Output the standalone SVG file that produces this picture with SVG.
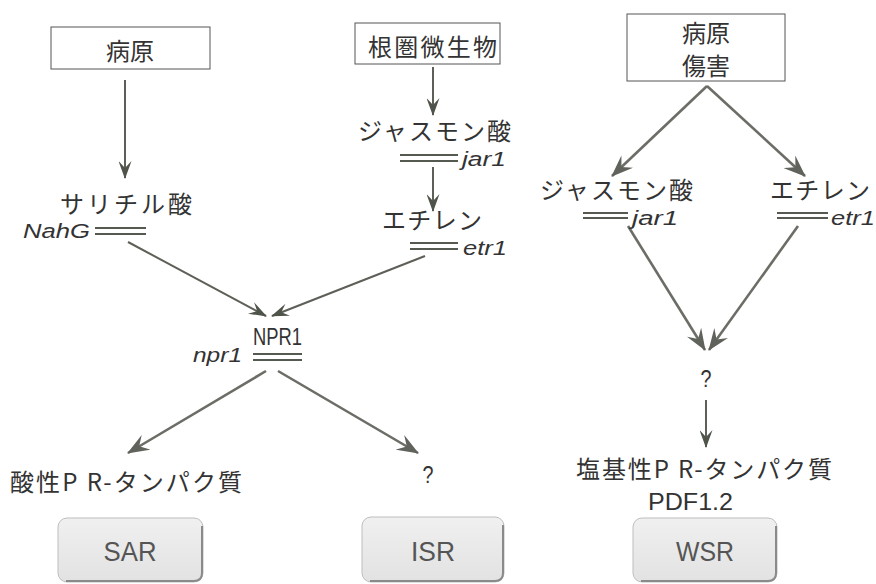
<svg xmlns="http://www.w3.org/2000/svg" width="876" height="584" viewBox="0 0 876 584">
<defs>
<style>
.jp{font-family:"Noto Sans CJK JP","Liberation Sans",sans-serif;font-size:24px;fill:#333}
.it{font-family:"Liberation Sans",Arial,sans-serif;font-style:italic;font-size:20px;fill:#333}
.cn{font-family:"Liberation Sans",Arial,sans-serif;font-size:24px;fill:#333}
.box{fill:#fff;stroke:#555;stroke-width:1}
.res{fill:url(#g);stroke:#bdbdbd;stroke-width:1}
.sh{fill:none;stroke:#8a8a8a;stroke-width:2}
.rt{font-family:"Liberation Sans",Arial,sans-serif;font-size:27px;fill:#555;text-anchor:middle}
.ar{fill:none;stroke:#5c6058;stroke-width:2;marker-end:url(#ah)}
.arw{fill:none;stroke:#6a6e66;stroke-width:2.6;marker-end:url(#ah2)}
.dl{stroke:#555a50;stroke-width:2.2}
</style>
<linearGradient id="g" x1="0" y1="0" x2="0" y2="1">
<stop offset="0" stop-color="#f0f0f0"/><stop offset="1" stop-color="#e2e2e2"/>
</linearGradient>
<marker id="ah" viewBox="0 0 18 13" refX="17" refY="6.5" markerWidth="18" markerHeight="13" markerUnits="userSpaceOnUse" orient="auto">
<path d="M0,0 L18,6.5 L0,13 L7,6.5 Z" fill="#4f544b"/>
</marker>
<marker id="ah2" viewBox="0 0 22 17" refX="21" refY="8.5" markerWidth="22" markerHeight="17" markerUnits="userSpaceOnUse" orient="auto">
<path d="M0,0 L22,8.5 L0,17 L8,8.5 Z" fill="#5f635b"/>
</marker>
</defs>

<g id="connectors">
<line class="ar" x1="125" y1="80" x2="125" y2="178"/>
<line class="ar" x1="433" y1="67" x2="433" y2="115"/>
<line class="ar" x1="433" y1="167" x2="433" y2="211"/>
<line class="ar" x1="128" y1="242" x2="266" y2="316"/>
<line class="ar" x1="425" y1="256" x2="272" y2="316"/>
<line class="arw" x1="266" y1="371" x2="128" y2="453"/>
<line class="arw" x1="278" y1="371" x2="418" y2="453"/>
<line class="arw" x1="707" y1="86" x2="612" y2="176"/>
<line class="arw" x1="707" y1="86" x2="805" y2="176"/>
<line class="arw" x1="628" y1="226" x2="705" y2="350"/>
<line class="arw" x1="798" y1="226" x2="709" y2="350"/>
<line class="ar" x1="706" y1="400" x2="706" y2="447"/>
</g>

<g id="pathogen1">
<rect class="box" x="51" y="27" width="159" height="42"/>
<text class="jp" x="130" y="60" text-anchor="middle">病原</text>
</g>

<g id="rhizo">
<rect class="box" x="355" y="23" width="145" height="41"/>
<text class="jp" x="368" y="56" textLength="129">根圏微生物</text>
</g>

<g id="pathogen2">
<rect class="box" x="627" y="14" width="158" height="67"/>
<text class="jp" x="706" y="42" text-anchor="middle" font-size="21">病原</text>
<text class="jp" x="706" y="75" text-anchor="middle" font-size="21">傷害</text>
</g>

<g id="salicylic">
<text class="jp" x="60" y="213" textLength="132">サリチル酸</text>
<line class="dl" x1="95" y1="228" x2="146" y2="228"/>
<line class="dl" x1="95" y1="234" x2="146" y2="234"/>
<text class="it" x="23" y="238" font-size="22" textLength="67" lengthAdjust="spacingAndGlyphs">NahG</text>
</g>

<g id="jasmonic1">
<text class="jp" x="358" y="140" textLength="153">ジャスモン酸</text>
<line class="dl" x1="400" y1="155" x2="458" y2="155"/>
<line class="dl" x1="400" y1="161" x2="458" y2="161"/>
<text class="it" x="462" y="166" textLength="44" lengthAdjust="spacingAndGlyphs">jar1</text>
</g>

<g id="ethylene1">
<text class="jp" x="382" y="229" textLength="100">エチレン</text>
<line class="dl" x1="410" y1="243" x2="458" y2="243"/>
<line class="dl" x1="410" y1="249" x2="458" y2="249"/>
<text class="it" x="463" y="255" textLength="44" lengthAdjust="spacingAndGlyphs">etr1</text>
</g>

<g id="npr1">
<text class="cn" x="253" y="345" textLength="49" lengthAdjust="spacingAndGlyphs">NPR1</text>
<line class="dl" x1="253" y1="354" x2="302" y2="354"/>
<line class="dl" x1="253" y1="360" x2="302" y2="360"/>
<text class="it" x="193" y="362" font-size="22" textLength="49" lengthAdjust="spacingAndGlyphs">npr1</text>
</g>

<g id="jasmonic2">
<text class="jp" x="540" y="199" textLength="153">ジャスモン酸</text>
<line class="dl" x1="583" y1="213" x2="628" y2="213"/>
<line class="dl" x1="583" y1="218" x2="628" y2="218"/>
<text class="it" x="632" y="225" textLength="46" lengthAdjust="spacingAndGlyphs">jar1</text>
</g>

<g id="ethylene2">
<text class="jp" x="770" y="199" textLength="100">エチレン</text>
<line class="dl" x1="777" y1="213" x2="828" y2="213"/>
<line class="dl" x1="777" y1="218" x2="828" y2="218"/>
<text class="it" x="831" y="225" textLength="44" lengthAdjust="spacingAndGlyphs">etr1</text>
</g>

<g id="unknown2">
<text class="cn" x="706" y="387" text-anchor="middle" textLength="11" lengthAdjust="spacingAndGlyphs">?</text>
</g>

<g id="acidicPR">
<text class="jp" x="10" y="491" textLength="232">酸性P R-タンパク質</text>
</g>

<g id="unknown1">
<text class="cn" x="428" y="483" text-anchor="middle" textLength="11" lengthAdjust="spacingAndGlyphs">?</text>
</g>

<g id="basicPR">
<text class="jp" x="576" y="478" textLength="256">塩基性P R-タンパク質</text>
<text class="cn" x="648" y="510" font-size="30" textLength="85" lengthAdjust="spacingAndGlyphs">PDF1.2</text>
</g>

<g id="SAR">
<rect class="res" x="58" y="518" width="145" height="64" rx="9"/>
<path class="sh" d="M202,526 V573 Q202,581 194,581 H66"/>
<text class="rt" x="130" y="561" textLength="53" lengthAdjust="spacingAndGlyphs">SAR</text>
</g>

<g id="ISR">
<rect class="res" x="362" y="517" width="142" height="65" rx="9"/>
<path class="sh" d="M503,525 V573 Q503,581 495,581 H370"/>
<text class="rt" x="433" y="561" textLength="44" lengthAdjust="spacingAndGlyphs">ISR</text>
</g>

<g id="WSR">
<rect class="res" x="633" y="518" width="144" height="64" rx="9"/>
<path class="sh" d="M776,526 V573 Q776,581 768,581 H641"/>
<text class="rt" x="705" y="561" textLength="58" lengthAdjust="spacingAndGlyphs">WSR</text>
</g>
</svg>
